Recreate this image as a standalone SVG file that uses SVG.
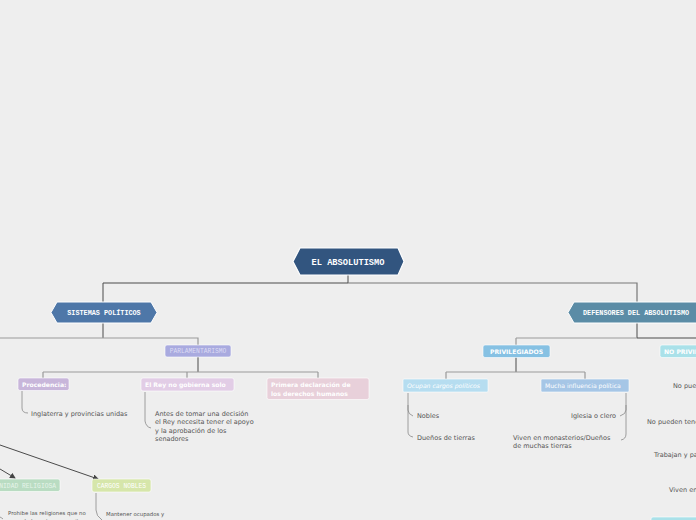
<svg xmlns="http://www.w3.org/2000/svg" width="696" height="520" viewBox="0 0 696 520">
<style>
.mono{font-family:"Liberation Mono","DejaVu Sans Mono",monospace;font-weight:bold;fill:#fff}
.lbl{font-family:"DejaVu Sans","Liberation Sans",sans-serif;font-weight:bold;fill:#fff;font-size:6.1px}
.reg{font-family:"DejaVu Sans","Liberation Sans",sans-serif;fill:#fff;font-size:6.1px}
.txt{font-family:"DejaVu Sans","Liberation Sans",sans-serif;fill:#555;font-size:6.5px}
.sm{font-family:"DejaVu Sans","Liberation Sans",sans-serif;fill:#555;font-size:5.4px}
.dk{stroke:#4a4a4a;stroke-width:1;fill:none}
.lt{stroke:#9a9a9a;stroke-width:1.2;fill:none}
.br{stroke:#888;stroke-width:0.8;fill:none}
</style>
<defs>
<marker id="ah" markerWidth="6" markerHeight="6" refX="5" refY="3" orient="auto" markerUnits="userSpaceOnUse">
<path d="M0,0 L6,3 L0,6 Z" fill="#444"/>
</marker>
</defs>
<rect width="696" height="520" fill="#eeeeee"/>
<g id="connectors">
<path class="dk" d="M348,275 V283 M103,283 H348 M103,283 V302"/>
<path class="lt" d="M348,283 H637 V302" style="stroke:#777"/>
<path class="dk" d="M103,323 V338"/>
<path class="lt" d="M0,338 H198 V345"/>
<path class="dk" d="M637,323 V338 H696"/>
<path class="lt" d="M516,338 H637 M516,338 V345"/>
<path class="dk" d="M198,357 V372"/>
<path class="lt" d="M43,372 H318 M43,372 V378 M187,372 V378 M318,372 V378"/>
<path class="dk" d="M516,357 V372"/>
<path class="lt" d="M446,372 H585 M446,372 V379 M585,372 V379"/>
<path class="br" d="M22,391 V408 Q22,413 28,413"/>
<path class="br" d="M145,392 V421 Q146,427 151,428"/>
<path class="br" d="M408,393 V410 Q408,414 413,416 M408,405 V432 Q408,436 413,437"/>
<path class="br" d="M626,393 V410 Q626,414 620,416 M626,405 V434 Q626,439 621,440"/>
<path class="br" d="M96,493 V510 Q96,516 102,520"/>
<path class="br" d="M0,517 Q2,518 3,519"/>
<path class="dk" d="M0,445 L98,479" marker-end="url(#ah)"/>
<path class="dk" d="M0,469 L15,478" marker-end="url(#ah)"/>
</g>
<g id="n-root">
<polygon points="300,248 398,248 404,261.5 398,275 300,275 293,261.5" fill="#32557f" stroke="#fff" stroke-width="1.2"/>
<text class="mono" x="348" y="264.5" font-size="8.7" text-anchor="middle">EL ABSOLUTISMO</text>
</g>
<g id="n-sistemas">
<polygon points="57,302 151,302 157,312.5 151,323 57,323 51,312.5" fill="#4e77a8" stroke="#fff" stroke-width="1"/>
<text class="mono" x="104" y="314.5" font-size="6.8" text-anchor="middle">SISTEMAS POLÍTICOS</text>
</g>
<g id="n-defensores">
<polygon points="574,302 700,302 700,323 574,323 568,312.5" fill="#5b8ca6" stroke="#fff" stroke-width="1"/>
<text class="mono" x="583" y="314.5" font-size="6.8">DEFENSORES DEL ABSOLUTISMO</text>
</g>
<g id="n-parlamentarismo">
<rect x="165" y="345" width="66" height="12" rx="2" fill="#a9aadf" stroke="#fff" stroke-width="0.6"/>
<text x="198" y="353.3" font-family="Liberation Mono,monospace" font-size="6.3" fill="#dcdcf4" text-anchor="middle">PARLAMENTARISMO</text>
</g>
<g id="n-procedencia">
<rect x="18" y="378" width="51" height="12.5" rx="2" fill="#c8b6da" stroke="#fff" stroke-width="0.6"/>
<text class="lbl" x="22" y="386.5">Procedencia:</text>
</g>
<g id="n-rey">
<rect x="141" y="378" width="93" height="13" rx="2" fill="#e2cde6" stroke="#fff" stroke-width="0.6"/>
<text class="lbl" x="145" y="387">El Rey no gobierna solo</text>
</g>
<g id="n-declaracion">
<rect x="267" y="378" width="102" height="21.5" rx="2" fill="#e8d0da" stroke="#fff" stroke-width="0.6"/>
<text class="lbl" x="271" y="387">Primera declaración de</text>
<text class="lbl" x="271" y="395.5">los derechos humanos</text>
</g>
<g id="t-inglaterra"><text class="txt" x="31" y="415.5">Inglaterra y provincias unidas</text></g>
<g id="t-antes">
<text class="txt" x="155" y="415.5">Antes de tomar una decisión</text>
<text class="txt" x="155" y="424">el Rey necesita tener el apoyo</text>
<text class="txt" x="155" y="432.5">y la aprobación de los</text>
<text class="txt" x="155" y="441">senadores</text>
</g>
<g id="n-unidad">
<rect x="-10" y="479" width="70" height="12.5" rx="2" fill="#b9dcc2" stroke="#fff" stroke-width="0.6"/>
<text x="56" y="487.5" font-family="Liberation Mono,monospace" font-size="6.3" fill="#e6f4ea" text-anchor="end">UNIDAD RELIGIOSA</text>
</g>
<g id="n-cargos">
<rect x="92" y="479" width="59" height="13" rx="2" fill="#d6e6aa" stroke="#fff" stroke-width="0.6"/>
<text x="121.5" y="487.8" font-family="Liberation Mono,monospace" font-size="6.3" fill="#fff" text-anchor="middle">CARGOS NOBLES</text>
</g>
<g id="t-prohibe">
<text class="sm" x="8" y="515">Prohibe las religiones que no</text>
<text class="sm" x="8" y="522.5">sean de la corte, para evitar</text>
</g>
<g id="t-mantener">
<text class="sm" x="106" y="516">Mantener ocupados y</text>
<text class="sm" x="106" y="523.5">bajo control a los</text>
</g>
<g id="n-privilegiados">
<rect x="483" y="345" width="67" height="12.5" rx="2" fill="#86c1e3" stroke="#fff" stroke-width="0.6"/>
<text class="lbl" x="516.5" y="353.8" text-anchor="middle">PRIVILEGIADOS</text>
</g>
<g id="n-noprivilegiados">
<rect x="660" y="345" width="60" height="12.5" rx="2" fill="#aae1e9" stroke="#fff" stroke-width="0.6"/>
<text class="lbl" x="664" y="353.8">NO PRIVILEGIADOS</text>
</g>
<g id="n-ocupan">
<rect x="403" y="379" width="85" height="13" rx="1" fill="#b6ddf0" stroke="#fff" stroke-width="0.6"/>
<text class="reg" x="407" y="388" font-style="italic">Ocupan cargos políticos</text>
</g>
<g id="n-mucha">
<rect x="541" y="379" width="88" height="13" rx="1" fill="#a6c6e6" stroke="#fff" stroke-width="0.6"/>
<text class="reg" x="545" y="388">Mucha influencia política</text>
</g>
<g id="t-priv">
<text class="txt" x="417" y="417.5">Nobles</text>
<text class="txt" x="417" y="439.5">Dueños de tierras</text>
<text class="txt" x="616" y="417.5" text-anchor="end">Iglesia o clero</text>
<text class="txt" x="513" y="439.5">Viven en monasterios/Dueños</text>
<text class="txt" x="513" y="448">de muchas tierras</text>
</g>
<g id="t-nopriv">
<text class="txt" x="673" y="387.5">No pueden votar</text>
<text class="txt" x="647" y="424">No pueden tener cargos</text>
<text class="txt" x="654" y="457">Trabajan y pagan impuestos</text>
<text class="txt" x="669" y="492">Viven en el campo</text>
</g>
<g id="n-cyan">
<rect x="651" y="517" width="60" height="10" rx="2" fill="#aae1e9" stroke="#fff" stroke-width="0.6"/>
</g>
</svg>
